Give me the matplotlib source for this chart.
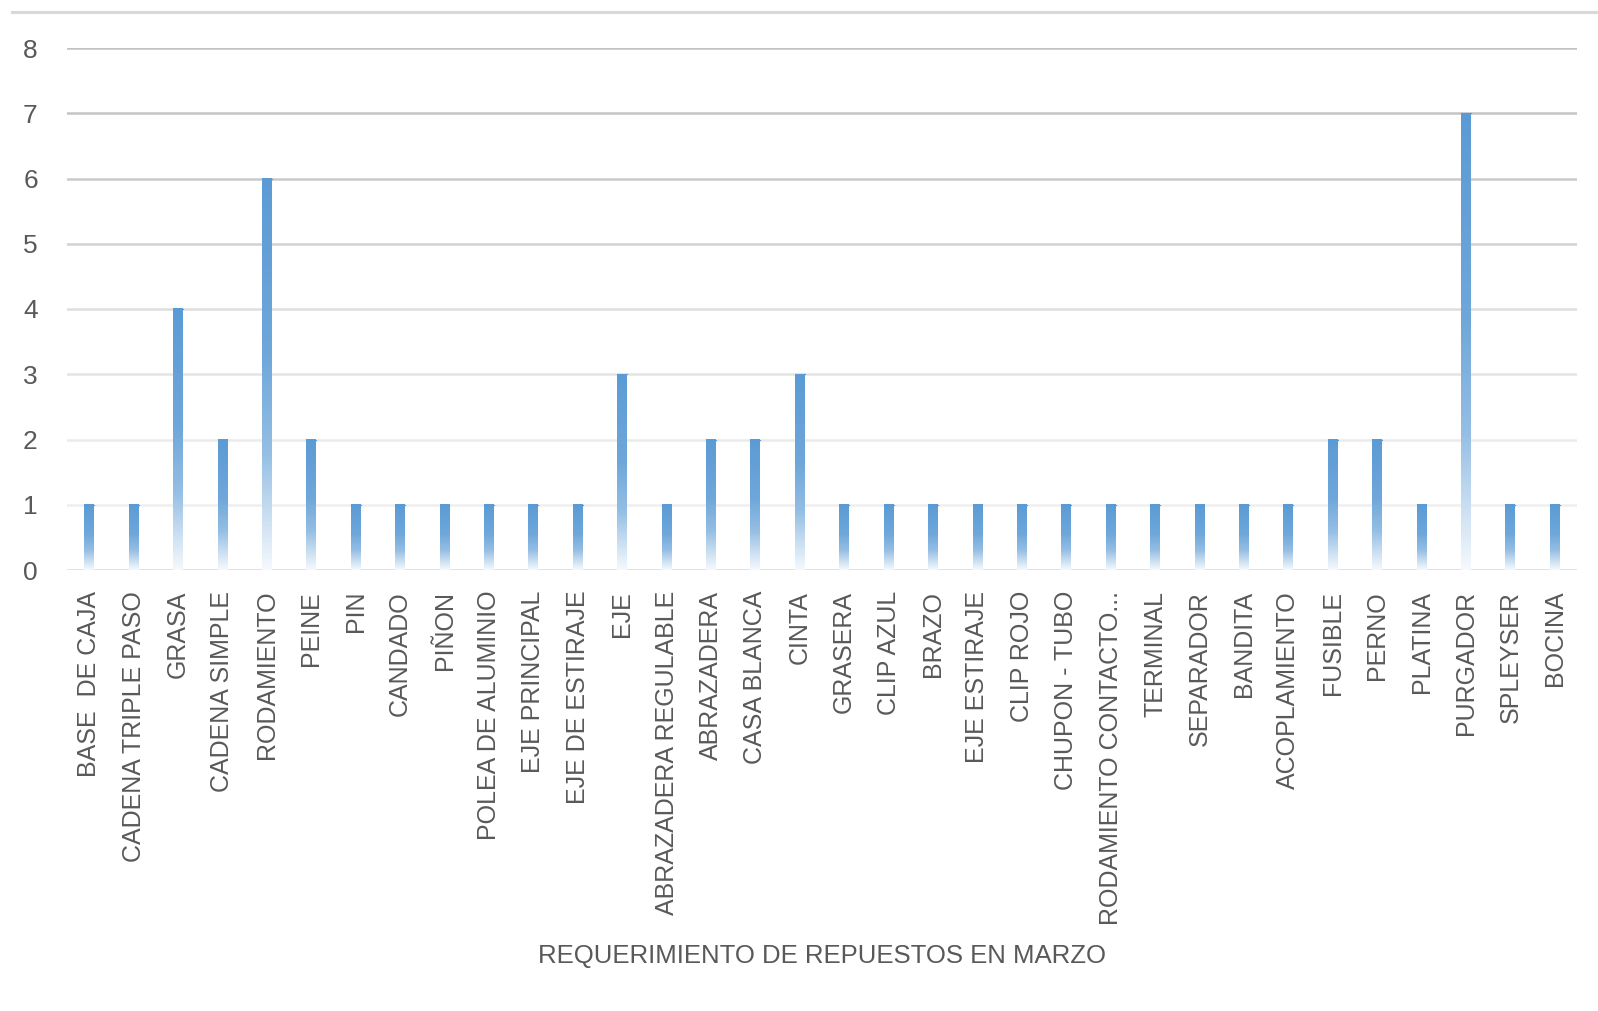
import numpy as np
import matplotlib
matplotlib.use("Agg")
import matplotlib.pyplot as plt
from matplotlib.lines import Line2D
from matplotlib.colors import to_rgb

categories = ["BASE  DE CAJA", "CADENA TRIPLE PASO", "GRASA", "CADENA SIMPLE", "RODAMIENTO",
              "PEINE", "PIN", "CANDADO", "PIÑON", "POLEA DE ALUMINIO", "EJE PRINCIPAL",
              "EJE DE ESTIRAJE", "EJE", "ABRAZADERA REGULABLE", "ABRAZADERA", "CASA BLANCA",
              "CINTA", "GRASERA", "CLIP AZUL", "BRAZO", "EJE ESTIRAJE", "CLIP ROJO",
              "CHUPON - TUBO", "RODAMIENTO CONTACTO...", "TERMINAL", "SEPARADOR", "BANDITA",
              "ACOPLAMIENTO", "FUSIBLE", "PERNO", "PLATINA", "PURGADOR", "SPLEYSER", "BOCINA"]
values = [1, 1, 4, 2, 6, 2, 1, 1, 1, 1, 1, 1, 3, 1, 2, 2, 3, 1, 1, 1, 1, 1, 1, 1, 1, 1, 1, 1,
          2, 2, 1, 7, 1, 1]
y_ticks = [0, 1, 2, 3, 4, 5, 6, 7, 8]
x_label = "REQUERIMIENTO DE REPUESTOS EN MARZO"

W, H = 1598, 1011
fig = plt.figure(figsize=(W / 100, H / 100), dpi=100)
fig.patch.set_facecolor("white")
ax = fig.add_axes([67 / W, 1 - 570 / H, (1577 - 67) / W, (570 - 48) / H])
for s in ax.spines.values():
    s.set_visible(False)

# gridlines (darker at top, lighter lower, like the reference)
grid_cols = {0: "#d9d9d9", 1: "#efefef", 2: "#ebebeb", 3: "#e4e4e4", 4: "#dedede",
             5: "#d2d2d2", 6: "#cacaca", 7: "#c4c4c4", 8: "#c2c2c2"}
for v in y_ticks:
    ax.axhline(v, color=grid_cols[v], lw=1.8, zorder=0)

blue = np.array(to_rgb("#5b9bd5"))
width = 0.22
bars = ax.bar(range(len(values)), values, width=width, facecolor="none", edgecolor="none")
n = 200
t = np.linspace(0, 1, n)  # 0 at top, 1 at bottom
mix = np.interp(t, [0, 0.45, 0.7, 0.85, 1.0], [1.0, 0.88, 0.65, 0.35, 0.06])
grad = np.ones((n, 1, 3)) * (1 - mix)[:, None, None] + blue[None, None, :] * mix[:, None, None]
for b in bars:
    x0 = b.get_x()
    h = b.get_height()
    ax.imshow(grad, extent=[x0, x0 + width, 0, h], aspect="auto", origin="upper",
              interpolation="bilinear", zorder=2)
    ax.plot([x0, x0 + width], [h, h], color="#5b9bd5", lw=0.8, zorder=3)

ax.set_xlim(-0.5, len(values) - 0.5)
ax.set_ylim(0, 8)
ax.set_yticks(y_ticks)
ax.set_xticks(range(len(categories)))
ax.set_xticklabels(categories, rotation=90, fontsize=18, color="#595959",
                   family="Liberation Sans")
ax.set_yticklabels([str(v) for v in y_ticks], fontsize=19, color="#595959",
                   family="Liberation Sans")
ax.tick_params(axis="x", length=0, pad=15)
ax.tick_params(axis="y", length=0, pad=21)

fig.text(822 / W, 1 - 956 / H, x_label, ha="center", va="center", fontsize=18.5,
         color="#595959", family="Liberation Sans")

fig.add_artist(Line2D([12 / W, 1.0], [1 - 12 / H, 1 - 12 / H], color="#d9d9d9", lw=2.2,
                      transform=fig.transFigure))

fig.savefig("out.png", dpi=100, facecolor="white")
